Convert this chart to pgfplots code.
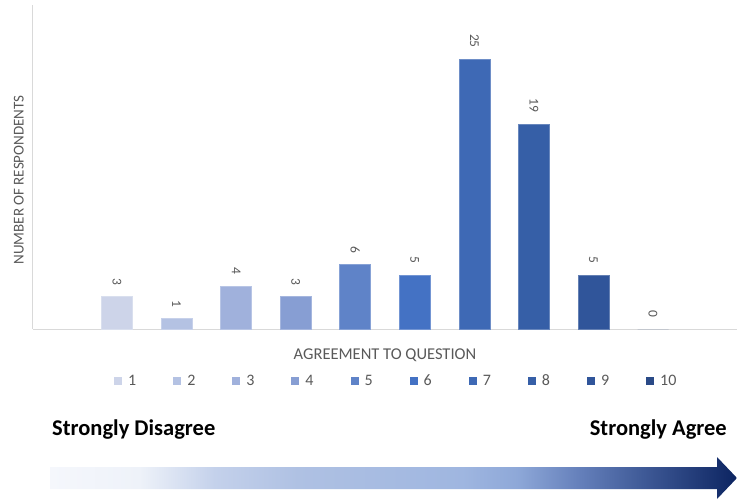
\documentclass[border=0pt]{standalone}
\usepackage{pgfplots}
\pgfplotsset{compat=1.18}
\usepackage{fontspec}
\setmainfont{Carlito}
\definecolor{c1}{HTML}{CDD4E9}
\definecolor{c2}{HTML}{B4C2E3}
\definecolor{c3}{HTML}{A0B1DC}
\definecolor{c4}{HTML}{879ED3}
\definecolor{c5}{HTML}{5F83C8}
\definecolor{c6}{HTML}{4472C4}
\definecolor{c7}{HTML}{3E69B5}
\definecolor{c8}{HTML}{365FA7}
\definecolor{c9}{HTML}{30559A}
\definecolor{c10}{HTML}{2A4A87}
\definecolor{txt}{HTML}{595959}
\definecolor{axl}{HTML}{D9D9D9}
\definecolor{a0}{HTML}{F5F7FC}
\definecolor{a1}{HTML}{EEF2F9}
\definecolor{a2}{HTML}{C4D1EB}
\definecolor{a3}{HTML}{AFC1E3}
\definecolor{a4}{HTML}{9FB6E0}
\definecolor{a5}{HTML}{8EA8D8}
\definecolor{a6}{HTML}{6580BB}
\definecolor{a7}{HTML}{405B98}
\definecolor{a8}{HTML}{0C2461}
\pgfdeclarehorizontalshading{arrowshade}{100bp}{color(0bp)=(a0); color(25bp)=(a0); color(31.5bp)=(a1); color(37bp)=(a2); color(43bp)=(a3); color(55bp)=(a4); color(59bp)=(a5); color(63.5bp)=(a6); color(68bp)=(a7); color(75bp)=(a8); color(100bp)=(a8)}
\pgfplotsset{
  mybar/.style={ybar, bar shift=0pt, bar width=31pt, draw=#1!75!white, line width=0.6pt, fill=#1,
    legend image code/.code={\fill[fill=#1, draw=none] (0pt,-4pt) rectangle (8pt,4pt); \path[draw=none, fill=none] (0pt,0pt) -- (12pt,0pt);}},
}
\begin{document}
\begin{tikzpicture}
\begin{axis}[
  name=ax,
  scale only axis, width=704pt, height=324pt,
  xmin=-0.41, xmax=11.41, ymin=0, ymax=30,
  axis lines=left,
  axis line style={draw=axl, line width=1pt, -},
  xtick=\empty, ytick=\empty,
  clip=false,
  xlabel={AGREEMENT TO QUESTION},
  xlabel style={at={(axis description cs:0.5,-0.08)}, anchor=center, font=\fontsize{16.5}{16.5}\selectfont, text=txt},
  ylabel={NUMBER OF RESPONDENTS},
  ylabel style={at={(axis description cs:-0.02,0.46)}, anchor=center, font=\fontsize{15}{15}\selectfont, text=txt},
  nodes near coords,
  /pgf/number format/assume math mode=true,
  nodes near coords style={rotate=-90, anchor=east, inner xsep=11pt, inner ysep=0pt, font=\fontsize{13.5}{13.5}\selectfont, text=txt},
  legend columns=10,
  legend style={at={(0.516,-0.161)}, anchor=center, draw=none, fill=none,
    font=\fontsize{16}{16}\selectfont, text=txt,
    /tikz/every even column/.append style={column sep=35pt}},
]
\addplot[mybar=c1] coordinates {(1,3)};
\addplot[mybar=c2] coordinates {(2,1)};
\addplot[mybar=c3] coordinates {(3,4)};
\addplot[mybar=c4] coordinates {(4,3)};
\addplot[mybar=c5] coordinates {(5,6)};
\addplot[mybar=c6] coordinates {(6,5)};
\addplot[mybar=c7] coordinates {(7,25)};
\addplot[mybar=c8] coordinates {(8,19)};
\addplot[mybar=c9] coordinates {(9,5)};
\addplot[mybar=c10, draw=none] coordinates {(10,0)};
\legend{1,2,3,4,5,6,7,8,9,10}
\end{axis}
\begin{scope}[shift={(ax.south west)}, x=1pt, y=1pt, xshift=-33pt, yshift=-170pt]
\node[anchor=base west, inner sep=0pt, font=\fontsize{22.5}{22.5}\selectfont\bfseries] at (52,64) {Strongly Disagree};
\node[anchor=base east, inner sep=0pt, font=\fontsize{22.5}{22.5}\selectfont\bfseries] at (727,64) {Strongly Agree};
\shade[shading=arrowshade] (50,32) -- (717,32) -- (717,42) -- (737,21) -- (717,0) -- (717,10) -- (50,10) -- cycle;
\pgfresetboundingbox
\useasboundingbox (0,0) rectangle (737,499);
\end{scope}
\end{tikzpicture}
\end{document}
